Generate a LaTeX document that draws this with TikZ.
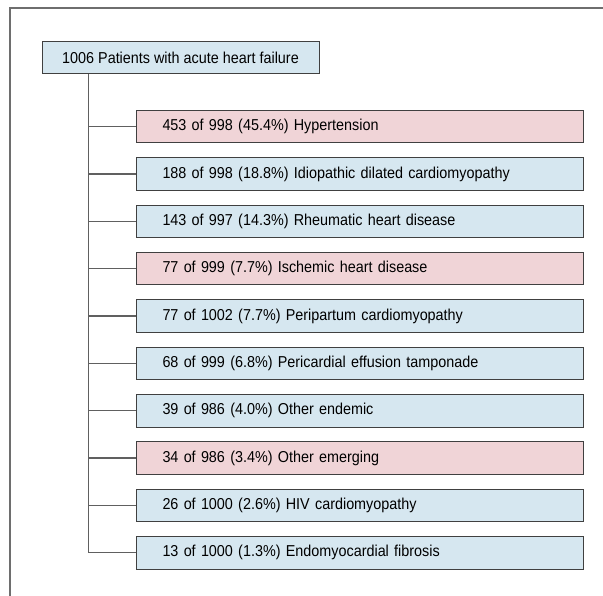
\documentclass[tikz,border=0pt]{standalone}
\usepackage{fontspec}
\setmainfont{Liberation Sans}[FakeStretch=0.91]
\definecolor{pinkfill}{HTML}{F0D4D7}
\definecolor{bluefill}{HTML}{D6E7F0}
\definecolor{boxline}{HTML}{404040}
\definecolor{connline}{HTML}{606060}
\definecolor{frameline}{HTML}{6E6E6E}
\begin{document}
\begin{tikzpicture}[x=1pt,y=-1pt,
  every node/.style={font=\fontsize{15.8}{18}\selectfont, text=black},
  basebox/.style={draw=boxline, line width=1pt, minimum height=32.5pt, inner ysep=0pt},
  rootbox/.style={basebox, fill=bluefill, minimum width=277pt, align=center},
  childbox/.style={basebox, anchor=north west, text width=395pt, inner xsep=26pt, align=left},
  bluebox/.style={childbox, fill=bluefill},
  pinkbox/.style={childbox, fill=pinkfill},
  conn/.style={draw=connline, line width=1.3pt},
  framestyle/.style={draw=frameline, line width=2pt}]
\useasboundingbox (0,0) rectangle (603,596);
\draw[framestyle] (10,596) -- (10,8) -- (603,8);
\node[rootbox] (root) at (180.5,57.5) {1006 Patients with acute heart failure};
\node[pinkbox] (c1) at (136,110) {453 of 998 (45.4\%) Hypertension};
\node[bluebox] (c2) at (136,157.3) {188 of 998 (18.8\%) Idiopathic dilated cardiomyopathy};
\node[bluebox] (c3) at (136,204.7) {143 of 997 (14.3\%) Rheumatic heart disease};
\node[pinkbox] (c4) at (136,252) {77 of 999 (7.7\%) Ischemic heart disease};
\node[bluebox] (c5) at (136,299.3) {77 of 1002 (7.7\%) Peripartum cardiomyopathy};
\node[bluebox] (c6) at (136,346.7) {68 of 999 (6.8\%) Pericardial effusion tamponade};
\node[bluebox] (c7) at (136,394) {39 of 986 (4.0\%) Other endemic};
\node[pinkbox] (c8) at (136,441.3) {34 of 986 (3.4\%) Other emerging};
\node[bluebox] (c9) at (136,488.7) {26 of 1000 (2.6\%) HIV cardiomyopathy};
\node[bluebox] (c10) at (136,536) {13 of 1000 (1.3\%) Endomyocardial fibrosis};
\coordinate (trunk) at ([xshift=47pt]root.south west);
\draw[conn] (trunk) |- (c10.west);
\foreach \i in {1,...,9} {
  \draw[conn] (c\i.west) -- (c\i.west -| trunk);
}
\end{tikzpicture}
\end{document}
